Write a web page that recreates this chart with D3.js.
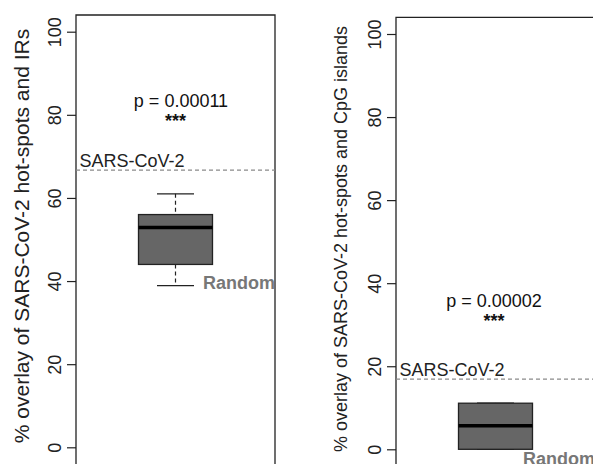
<!DOCTYPE html>
<html>
<head>
<meta charset="utf-8">
<script src="https://cdn.jsdelivr.net/npm/d3@7"></script>
<style>
  body { margin: 0; background: #fff; }
  text { font-family: "Liberation Sans", Arial, sans-serif; }
</style>
</head>
<body>
<div id="chart"></div>
<script>
// values
const panelNames = ["IRs", "CpG islands"];
const yTicks = [0, 20, 40, 60, 80, 100];
const boxMin = [38.9, 0];
const boxQ1 = [44.0, 0];
const boxMedian = [52.9, 5.7];
const boxQ3 = [56.0, 11.1];
const boxMax = [61.0, 11.1];
const observed = [66.7, 16.9];
const pLabels = ["p = 0.00011", "p = 0.00002"];
const starLabels = ["***", "***"];

// layout of each panel (pixels) and label positions (data units)
const layout = [
  { left: 76, top: 15, y0: 447.3, y100: 31.7, titleY: 236, titleSize: 21, pX: 181, pY: 81.9, sX: 175.5, sY: 77.1, rY: 39.7 },
  { left: 396, top: 17.3, y0: 449.3, y100: 34, titleY: 239, titleSize: 18, pX: 494, pY: 34.3, sX: 494, sY: 29.5, rY: -2.1 }
];
const frameW = 199;

const svg = d3.select("#chart").append("svg")
  .attr("width", 593)
  .attr("height", 464);

panelNames.forEach((name, i) => {
  const L = layout[i];
  const g = svg.append("g");

  const y = d3.scaleLinear().domain([0, 100]).range([L.y0, L.y100]);
  const x = d3.scaleLinear().domain([0, 1]).range([L.left, L.left + frameW]);
  const bottom = y(-4);

  // frame
  g.append("path")
    .attr("d", `M${L.left},${bottom + 2}V${L.top}H${L.left + frameW}V${bottom + 2}`)
    .attr("fill", "none")
    .attr("stroke", "#222")
    .attr("stroke-width", 1.3);

  // y axis
  const axis = g.append("g")
    .attr("transform", `translate(${L.left},0)`)
    .call(d3.axisLeft(y).tickValues(yTicks).tickSize(9).tickFormat(d3.format("d")));
  axis.select(".domain").remove();
  axis.selectAll(".tick line").attr("stroke", "#222").attr("stroke-width", 1.2);
  axis.selectAll(".tick text")
    .attr("transform", "rotate(-90)")
    .attr("x", 0)
    .attr("y", -21.5)
    .attr("dy", "0.36em")
    .attr("text-anchor", "middle")
    .attr("font-size", 18)
    .attr("font-family", "Liberation Sans, Arial, sans-serif")
    .attr("fill", "#222");

  // axis title
  g.append("text")
    .attr("transform", `translate(${L.left - 55},${L.titleY}) rotate(-90)`)
    .attr("dy", "0.36em")
    .attr("text-anchor", "middle")
    .attr("font-size", L.titleSize)
    .attr("fill", "#222")
    .text("% overlay of SARS-CoV-2 hot-spots and " + name);

  // observed value
  g.append("line")
    .attr("x1", L.left).attr("x2", L.left + frameW)
    .attr("y1", y(observed[i])).attr("y2", y(observed[i]))
    .attr("stroke", "#8a8a8a")
    .attr("stroke-width", 1.2)
    .attr("stroke-dasharray", "4,3");
  g.append("text")
    .attr("x", L.left + 3.5)
    .attr("y", y(observed[i]) - 3.5)
    .attr("font-size", 18)
    .attr("fill", "#222")
    .text("SARS-CoV-2");

  // box plot
  const cx = x(0.5), hw = 37, cw = 18.5;
  g.append("line")
    .attr("x1", cx).attr("x2", cx)
    .attr("y1", y(boxMax[i])).attr("y2", y(boxQ3[i]))
    .attr("stroke", "#222").attr("stroke-width", 1.2).attr("stroke-dasharray", "4,3");
  g.append("line")
    .attr("x1", cx).attr("x2", cx)
    .attr("y1", y(boxQ1[i])).attr("y2", y(boxMin[i]))
    .attr("stroke", "#222").attr("stroke-width", 1.2).attr("stroke-dasharray", "4,3");
  [boxMin[i], boxMax[i]].forEach(v => {
    g.append("line")
      .attr("x1", cx - cw).attr("x2", cx + cw)
      .attr("y1", y(v)).attr("y2", y(v))
      .attr("stroke", "#222").attr("stroke-width", 1.3);
  });
  g.append("rect")
    .attr("x", cx - hw).attr("width", hw * 2)
    .attr("y", y(boxQ3[i])).attr("height", y(boxQ1[i]) - y(boxQ3[i]))
    .attr("fill", "#666")
    .attr("stroke", "#222")
    .attr("stroke-width", 1.3);
  g.append("line")
    .attr("x1", cx - hw).attr("x2", cx + hw)
    .attr("y1", y(boxMedian[i])).attr("y2", y(boxMedian[i]))
    .attr("stroke", "#000").attr("stroke-width", 3.5);

  g.append("text")
    .attr("x", cx + 27.6)
    .attr("y", y(L.rY))
    .attr("dy", "0.36em")
    .attr("font-size", 18)
    .attr("font-weight", "bold")
    .attr("fill", "#777")
    .text("Random");

  // p value
  g.append("text")
    .attr("x", L.pX).attr("y", y(L.pY))
    .attr("text-anchor", "middle")
    .attr("font-size", 18)
    .attr("fill", "#111")
    .text(pLabels[i]);
  g.append("text")
    .attr("x", L.sX).attr("y", y(L.sY))
    .attr("text-anchor", "middle")
    .attr("font-size", 18)
    .attr("font-weight", "bold")
    .attr("fill", "#111")
    .text(starLabels[i]);
});
</script>
</body>
</html>
